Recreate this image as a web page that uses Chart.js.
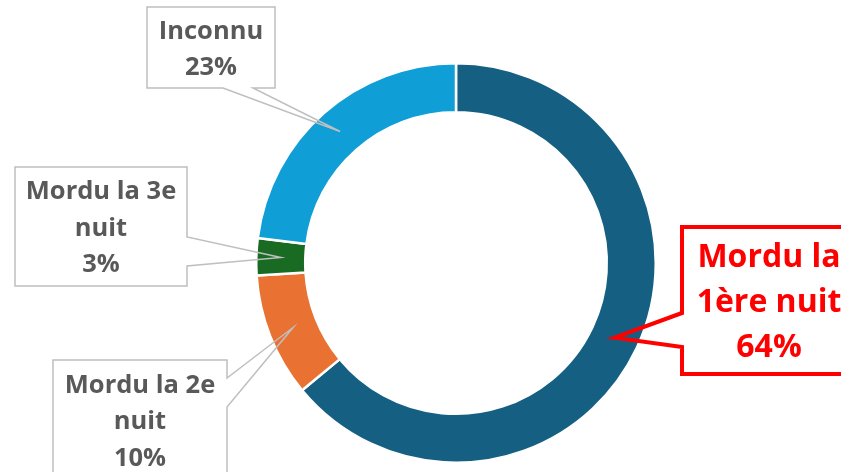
<!DOCTYPE html>
<html lang="fr">
<head>
<meta charset="UTF-8">
<title>Morsures</title>
<script src="https://cdn.jsdelivr.net/npm/chart.js@4"></script>
<style>
  html, body { margin: 0; padding: 0; background: #fff; }
  #wrap { width: 841px; height: 472px; position: relative; }
</style>
</head>
<body>
<div id="wrap"><canvas id="chart"></canvas></div>
<script>
// données
const categories = ['Mordu la 1ère nuit', 'Mordu la 2e nuit', 'Mordu la 3e nuit', 'Inconnu']
const values = [64, 10, 3, 23]
const sliceColors = ['#156082', '#E97132', '#196B24', '#0F9ED5']
// texte des étiquettes, coupé en lignes (le % est ajouté depuis values)
const labelLines = [['Mordu la', '1ère nuit'], ['Mordu la 2e', 'nuit'], ['Mordu la 3e', 'nuit'], ['Inconnu']]

// boîtes des étiquettes : x, y, largeur, hauteur, côté de la flèche, début/fin de la flèche sur ce côté
const boxes = [
  { x: 682, y: 227, w: 174, h: 147, side: 'left', a: 313, b: 347, red: true },
  { x: 53, y: 360, w: 174, h: 120, side: 'right', a: 378, b: 407 },
  { x: 15, y: 167, w: 172, h: 119, side: 'right', a: 237, b: 266 },
  { x: 147, y: 7, w: 128, h: 81, side: 'bottom', a: 223, b: 253 }
]

const calloutPlugin = {
  id: 'callouts',
  afterDraw(chart) {
    const ctx = chart.ctx
    const arcs = chart.getDatasetMeta(0).data
    boxes.forEach((bx, i) => {
      const tip = arcs[i].tooltipPosition()
      const x0 = bx.x, y0 = bx.y, x1 = bx.x + bx.w, y1 = bx.y + bx.h
      ctx.save()
      ctx.beginPath()
      ctx.moveTo(x0, y0)
      if (bx.side == 'bottom') {
        ctx.lineTo(x1, y0); ctx.lineTo(x1, y1)
        ctx.lineTo(bx.b, y1); ctx.lineTo(tip.x, tip.y); ctx.lineTo(bx.a, y1)
        ctx.lineTo(x0, y1)
      } else if (bx.side == 'right') {
        ctx.lineTo(x1, y0)
        ctx.lineTo(x1, bx.a); ctx.lineTo(tip.x, tip.y); ctx.lineTo(x1, bx.b)
        ctx.lineTo(x1, y1); ctx.lineTo(x0, y1)
      } else {
        ctx.lineTo(x1, y0); ctx.lineTo(x1, y1); ctx.lineTo(x0, y1)
        ctx.lineTo(x0, bx.b); ctx.lineTo(tip.x, tip.y); ctx.lineTo(x0, bx.a)
      }
      ctx.closePath()
      ctx.lineJoin = 'miter'
      ctx.strokeStyle = bx.red ? '#FF0000' : '#BFBFBF'
      ctx.lineWidth = bx.red ? 4 : 1.5
      ctx.stroke()

      const lines = labelLines[i].concat([values[i] + '%'])
      const size = bx.red ? 32 : 25.5
      const lh = bx.red ? 45 : 36.5
      ctx.fillStyle = bx.red ? '#FF0000' : '#595959'
      ctx.font = 'bold ' + size + 'px "Open Sans", sans-serif'
      ctx.textAlign = 'center'
      ctx.textBaseline = 'middle'
      const cx = (x0 + x1) / 2
      const cy = (y0 + y1) / 2 + 2
      lines.forEach((t, k) => {
        ctx.fillText(t, cx, cy + (k - (lines.length - 1) / 2) * lh)
      })
      ctx.restore()
    })
  }
}

new Chart(document.getElementById('chart'), {
  type: 'doughnut',
  data: {
    labels: categories,
    datasets: [{
      data: values,
      backgroundColor: sliceColors,
      borderColor: '#fff',
      borderWidth: 2.5,
      hoverOffset: 0
    }]
  },
  options: {
    responsive: true,
    maintainAspectRatio: false,
    animation: false,
    cutout: '75.5%',
    layout: { padding: { left: 255, right: 184, top: 62, bottom: 8 } },
    plugins: {
      legend: { display: false },
      tooltip: { enabled: false }
    }
  },
  plugins: [calloutPlugin]
})
</script>
</body>
</html>
